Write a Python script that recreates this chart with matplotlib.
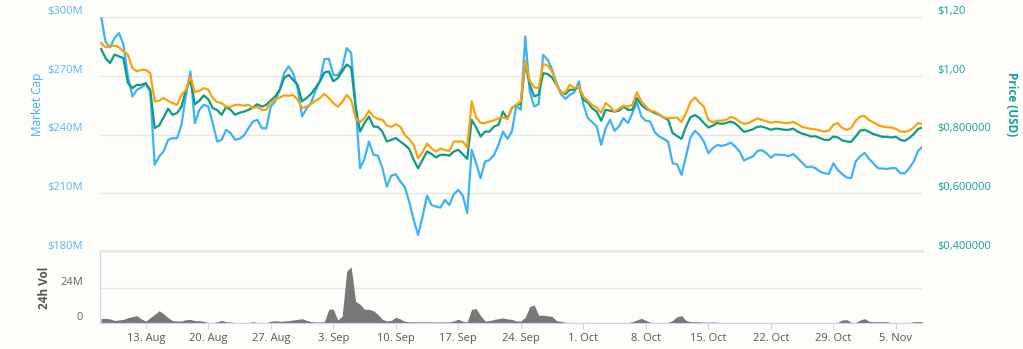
import matplotlib
matplotlib.use("Agg")
import matplotlib.pyplot as plt
import matplotlib.dates as mdates
from matplotlib.ticker import FuncFormatter
import pandas as pd

plt.rcParams['font.family'] = ['Open Sans', 'DejaVu Sans']

# 12-hourly samples, 8 Aug 2017 .. 8 Nov 2017
dates = pd.date_range('2017-08-08', periods=185, freq='12h')

# Market cap, millions USD
market_cap = [
    300.3, 287.2, 284.5, 289.3, 291.8, 285.9, 269.7, 259.4, 262.8, 264.0,
    265.7, 262.0, 224.5, 228.8, 231.3, 237.3, 238.1, 238.1, 244.9, 260.3,
    272.2, 245.8, 252.6, 255.2, 254.3, 245.8, 236.4, 237.3, 242.4, 240.7,
    237.3, 237.8, 239.5, 243.2, 246.6, 247.5, 243.2, 243.2, 254.3, 256.9,
    262.8, 271.4, 274.8, 271.4, 263.7, 249.2, 253.1, 256.0, 262.3, 267.1,
    278.5, 278.7, 270.5, 270.2, 273.9, 284.1, 281.6, 255.2, 222.8, 227.6,
    236.4, 229.6, 229.3, 222.8, 213.4, 219.0, 219.7, 216.0, 213.4, 205.7,
    196.4, 188.7, 198.1, 208.8, 204.0, 203.2, 202.7, 206.6, 204.0, 209.5,
    211.7, 208.8, 199.8, 232.2, 225.3, 217.7, 226.2, 227.0, 229.6, 234.7,
    241.5, 237.8, 241.5, 254.8, 252.6, 290.1, 262.0, 254.3, 255.5, 280.7,
    278.2, 273.4, 266.2, 260.6, 258.2, 260.3, 261.6, 267.1, 255.5, 248.4,
    246.3, 244.1, 234.7, 243.2, 247.5, 241.9, 244.1, 248.4, 245.8, 250.9,
    256.4, 249.2, 247.0, 246.6, 241.2, 239.0, 237.8, 236.4, 225.3, 224.8,
    219.4, 228.8, 238.5, 241.9, 239.8, 236.4, 230.5, 233.0, 234.7, 234.2,
    234.7, 235.9, 233.9, 231.3, 226.7, 227.9, 228.8, 231.6, 232.0, 230.5,
    228.2, 229.8, 229.6, 229.6, 228.9, 230.1, 227.9, 225.7, 223.3, 223.6,
    222.8, 221.1, 220.2, 219.9, 225.3, 221.9, 219.7, 218.0, 217.7, 226.2,
    228.8, 230.6, 227.6, 225.2, 222.8, 222.6, 222.4, 222.8, 222.8, 220.2,
    220.2, 222.8, 226.2, 231.6, 233.9]

# Price (USD)
price_usd = [
    1.091, 1.060, 1.043, 1.072, 1.066, 1.060, 0.975, 0.958, 0.969, 0.969,
    0.975, 0.952, 0.822, 0.831, 0.858, 0.888, 0.867, 0.873, 0.895, 0.952,
    0.986, 0.903, 0.915, 0.933, 0.920, 0.890, 0.883, 0.867, 0.894, 0.884,
    0.867, 0.874, 0.878, 0.884, 0.892, 0.903, 0.895, 0.901, 0.916, 0.930,
    0.952, 0.992, 1.003, 0.986, 0.969, 0.913, 0.924, 0.938, 0.958, 0.981,
    1.011, 1.015, 0.981, 0.992, 1.015, 1.038, 1.028, 0.895, 0.810, 0.839,
    0.861, 0.827, 0.826, 0.810, 0.776, 0.782, 0.788, 0.776, 0.765, 0.751,
    0.714, 0.685, 0.714, 0.742, 0.734, 0.722, 0.731, 0.731, 0.728, 0.742,
    0.748, 0.733, 0.717, 0.850, 0.824, 0.793, 0.810, 0.810, 0.827, 0.833,
    0.878, 0.853, 0.890, 0.901, 0.903, 1.043, 0.969, 0.930, 0.935, 1.009,
    1.006, 0.994, 0.969, 0.944, 0.938, 0.952, 0.953, 0.963, 0.918, 0.909,
    0.889, 0.878, 0.847, 0.884, 0.881, 0.878, 0.881, 0.895, 0.884, 0.884,
    0.924, 0.901, 0.888, 0.881, 0.873, 0.867, 0.858, 0.850, 0.805, 0.795,
    0.785, 0.827, 0.859, 0.866, 0.856, 0.839, 0.824, 0.830, 0.839, 0.836,
    0.839, 0.844, 0.838, 0.824, 0.809, 0.813, 0.818, 0.826, 0.827, 0.822,
    0.816, 0.820, 0.819, 0.816, 0.816, 0.820, 0.810, 0.803, 0.799, 0.793,
    0.794, 0.788, 0.782, 0.781, 0.793, 0.790, 0.780, 0.776, 0.775, 0.793,
    0.813, 0.816, 0.809, 0.801, 0.797, 0.792, 0.792, 0.790, 0.792, 0.782,
    0.778, 0.788, 0.801, 0.819, 0.824]

# Price (BTC), drawn on its own hidden axis (shown in USD-equivalent scale)
price_btc = [
    1.111, 1.097, 1.100, 1.103, 1.097, 1.083, 1.072, 1.026, 1.015, 1.020,
    1.020, 1.009, 0.913, 0.915, 0.924, 0.915, 0.907, 0.901, 0.935, 0.952,
    0.998, 0.944, 0.949, 0.958, 0.953, 0.924, 0.910, 0.907, 0.895, 0.894,
    0.901, 0.901, 0.898, 0.901, 0.890, 0.894, 0.884, 0.884, 0.910, 0.918,
    0.926, 0.933, 0.932, 0.935, 0.919, 0.890, 0.895, 0.903, 0.915, 0.924,
    0.938, 0.924, 0.907, 0.895, 0.910, 0.935, 0.918, 0.856, 0.842, 0.856,
    0.881, 0.861, 0.853, 0.850, 0.831, 0.826, 0.835, 0.827, 0.799, 0.784,
    0.765, 0.719, 0.740, 0.769, 0.753, 0.742, 0.752, 0.747, 0.744, 0.776,
    0.776, 0.776, 0.756, 0.913, 0.858, 0.839, 0.839, 0.844, 0.848, 0.856,
    0.858, 0.853, 0.890, 0.901, 0.913, 1.051, 0.983, 0.960, 0.958, 1.040,
    1.035, 1.015, 0.969, 0.941, 0.944, 0.969, 0.958, 0.964, 0.930, 0.915,
    0.900, 0.892, 0.874, 0.907, 0.895, 0.878, 0.888, 0.898, 0.895, 0.901,
    0.944, 0.913, 0.895, 0.881, 0.878, 0.869, 0.858, 0.856, 0.856, 0.858,
    0.842, 0.873, 0.910, 0.926, 0.909, 0.895, 0.850, 0.841, 0.847, 0.847,
    0.850, 0.860, 0.855, 0.844, 0.836, 0.839, 0.847, 0.855, 0.850, 0.845,
    0.840, 0.843, 0.842, 0.839, 0.839, 0.843, 0.835, 0.826, 0.822, 0.819,
    0.818, 0.813, 0.810, 0.813, 0.833, 0.839, 0.822, 0.816, 0.822, 0.847,
    0.861, 0.863, 0.849, 0.841, 0.832, 0.827, 0.825, 0.824, 0.819, 0.810,
    0.809, 0.813, 0.824, 0.839, 0.835]

# 24h volume, millions USD
volume = [
    3.2, 3.2, 2.8, 1.8, 2.1, 2.5, 3.7, 4.4, 5.1, 2.8,
    1.4, 3.7, 6.0, 8.5, 6.5, 3.7, 1.6, 1.4, 1.4, 2.3,
    2.5, 1.6, 1.6, 1.2, 0.2, 0.2, 0.9, 1.8, 0.9, 0.7,
    0.2, 0.2, 0.2, 0.2, 0.9, 0.2, 0.1, 0.2, 1.2, 1.6,
    1.2, 1.4, 1.6, 2.1, 2.5, 3.0, 1.8, 1.0, 0.7, 0.7,
    0.9, 9.6, 9.6, 2.0, 5.0, 36.0, 39.0, 15.0, 13.0, 9.5,
    9.5, 8.5, 6.0, 2.5, 1.4, 1.8, 4.0, 2.8, 1.2, 0.8,
    0.8, 0.8, 0.8, 0.8, 0.8, 0.7, 0.7, 0.7, 0.7, 1.5,
    2.6, 1.2, 0.7, 9.5, 10.0, 5.0, 1.4, 1.6, 2.5, 3.0,
    3.5, 2.8, 2.5, 1.4, 1.4, 4.0, 11.5, 12.5, 5.4, 5.4,
    5.0, 4.5, 1.6, 1.2, 0.5, 0.3, 0.2, 0.2, 0.2, 0.5,
    0.2, 0.2, 0.2, 0.2, 0.3, 0.2, 0.2, 0.2, 0.2, 0.9,
    2.1, 3.2, 1.8, 0.5, 0.2, 0.2, 0.2, 0.5, 1.8, 4.4,
    5.1, 1.8, 0.9, 0.9, 0.9, 0.5, 0.5, 0.7, 0.5, 0.2,
    0.2, 0.3, 0.2, 0.2, 0.2, 0.3, 0.2, 0.2, 0.2, 0.2,
    0.2, 0.2, 0.2, 0.2, 0.2, 0.2, 0.2, 0.2, 0.2, 0.2,
    0.2, 0.2, 0.2, 0.2, 0.2, 0.5, 2.1, 2.3, 0.5, 0.3,
    2.1, 3.0, 1.2, 0.9, 0.9, 0.9, 0.9, 0.2, 0.2, 0.2,
    0.2, 0.2, 0.9, 0.9, 0.9]

cap_ticks = [180, 210, 240, 270, 300]
cap_labels = ['$180M', '$210M', '$240M', '$270M', '$300M']
price_ticks = [0.4, 0.6, 0.8, 1.0, 1.2]
price_labels = ['$0,400000', '$0,600000', '$0,800000', '$1,00', '$1,20']
vol_ticks = [0, 24]
vol_labels = ['0', '24M']

bg = '#fdfdf9'
c_cap = '#3db3f5'
c_usd = '#0b9b87'
c_btc = '#f8a30e'
c_grid = '#e6e6e6'
c_axis = '#ccd6eb'

W, H = 1023, 349
fig = plt.figure(figsize=(W / 100, H / 100), dpi=100, facecolor=bg)
ax = fig.add_axes([100 / W, 1 - 252 / H, 822 / W, 235 / H])
axv = fig.add_axes([100 / W, 1 - 323 / H, 822 / W, 72 / H], sharex=ax)
ax.set_facecolor(bg)
axv.set_facecolor(bg)

x0 = dates[0] - pd.Timedelta(hours=3)
x1 = dates[0] + pd.Timedelta(days=91.93)

# market cap
ax.plot(dates, market_cap, color=c_cap, lw=1.6)
ax.set_ylim(180, 300)
ax.set_xlim(x0, x1)
ax.set_yticks(cap_ticks)
ax.set_yticklabels(cap_labels)
ax.tick_params(axis='y', length=0, pad=12, labelsize=8, labelcolor='#5db6f0')
ax.tick_params(axis='x', bottom=False, labelbottom=False)
plt.setp(ax.get_yticklabels(), va='bottom')
ax.grid(axis='y', color=c_grid, lw=1)
ax.set_axisbelow(True)
for s in ax.spines.values():
    s.set_visible(False)

# price usd
ax2 = ax.twinx()
ax2.plot(dates, price_usd, color=c_usd, lw=1.6)
ax2.set_ylim(0.4, 1.2)
ax2.set_yticks(price_ticks)
ax2.set_yticklabels(price_labels)
ax2.tick_params(axis='y', length=0, pad=11, labelsize=8, labelcolor='#1a9e98')
plt.setp(ax2.get_yticklabels(), va='bottom')
for s in ax2.spines.values():
    s.set_visible(False)

# price btc (hidden axis)
ax3 = ax.twinx()
ax3.plot(dates, price_btc, color=c_btc, lw=1.6)
ax3.set_ylim(0.4, 1.2)
ax3.set_yticks([])
for s in ax3.spines.values():
    s.set_visible(False)

# volume
axv.fill_between(dates, volume, color='#787878', lw=0)
axv.set_ylim(0, 50)
axv.set_yticks(vol_ticks)
axv.set_yticklabels(vol_labels)
axv.tick_params(axis='y', length=0, pad=12, labelsize=8, labelcolor='#666666')
plt.setp(axv.get_yticklabels(), va='bottom')
axv.grid(axis='y', color=c_grid, lw=1)
axv.set_axisbelow(True)
axv.spines['right'].set_visible(False)
axv.spines['top'].set_color(c_grid)
axv.spines['top'].set_linewidth(2)
axv.spines['left'].set_color(c_axis)
axv.spines['bottom'].set_color(c_axis)

week_ticks = pd.date_range('2017-08-13', periods=13, freq='7D')
axv.set_xticks(week_ticks)
axv.xaxis.set_major_formatter(FuncFormatter(
    lambda v, pos: f"{mdates.num2date(v).day}. {mdates.num2date(v).strftime('%b')}"))
axv.tick_params(axis='x', length=4, color=c_axis, pad=3, labelsize=8, labelcolor='#555555')
axv.set_xlim(x0, x1)

fig.text(38 / W, 1 - 104 / H, 'Market Cap', rotation=90, color='#3fb0ee',
         fontsize=8.5, ha='center', va='center')
fig.text(1012 / W, 1 - 104 / H, 'Price (USD)', rotation=270, color='#1a9e98',
         fontsize=8.5, fontweight='bold', ha='center', va='center')
fig.text(45 / W, 1 - 288 / H, '24h Vol', rotation=90, color='#555555',
         fontsize=8.5, fontweight='bold', ha='center', va='center')

fig.savefig('out.png', dpi=100, facecolor=bg)
